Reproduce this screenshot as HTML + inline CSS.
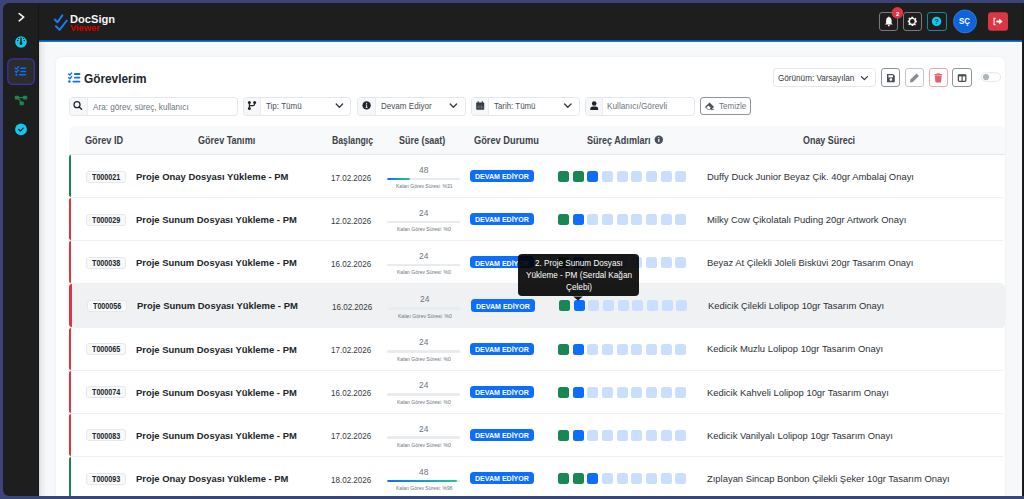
<!DOCTYPE html>
<html lang="tr"><head><meta charset="utf-8"><title>Görevlerim</title>
<style>
*{box-sizing:border-box;margin:0;padding:0}
html,body{width:1024px;height:499px;overflow:hidden}
body{background:#3b4577;font-family:"Liberation Sans",sans-serif;position:relative;color:#212529}
.a{position:absolute}
.t{position:absolute;white-space:nowrap;line-height:1;transform-origin:0 0}
.side{position:absolute;left:3px;top:3px;width:36px;height:493px;background:#1e1e1e;border-radius:6px 0 0 6px;border-right:1px solid #161616}
.hdr{position:absolute;left:39px;top:3px;width:983px;height:37px;background:#1e1e1e}
.bline{position:absolute;left:39px;top:40px;width:983px;height:2px;background:linear-gradient(#0b559f 0%,#0b559f 50%,#0a7ad9 50%,#0a7ad9 100%)}
.main{position:absolute;left:39px;top:42px;width:983px;height:454px;background:#f7f8fa;overflow:hidden}
.main:before{content:"";position:absolute;left:0;top:0;width:8px;height:100%;background:linear-gradient(90deg,rgba(0,0,0,.13),rgba(0,0,0,.05) 30%,rgba(0,0,0,0))}
.rstrip{position:absolute;left:1022px;top:3px;width:2px;height:493px;background:#1a1a1a}
.card{position:absolute;left:56px;top:56.5px;width:949px;height:460px;background:#fff;border-radius:6px;box-shadow:0 0 3px rgba(0,0,0,.06)}
.sq{position:absolute;top:16px;width:11px;height:11px;border-radius:2.5px;display:block}
.sg{background:#198754}.sb{background:#0d6efd}.sl{background:#cadffd}
.row{position:absolute;left:69px;width:936px;height:43.15px;background:#fff;border-radius:4px}
.row:after{content:"";position:absolute;left:0;right:2px;bottom:0;height:1px;background:#eef0f2}
.row:before{content:"";position:absolute;left:0;top:0;bottom:1px;width:2px;border-radius:3px 0 0 3px}
.rg:before{background:#198754}.rr:before{background:#dc3545}
.hov{background:#f0f1f3}
.hov:before{width:3px}
.rc{position:absolute;left:0;top:0;width:100%;height:100%}
.hov .rc{left:1px}
.idb{position:absolute;left:17px;top:15.6px;width:40px;height:12px;border:1px solid #e6e8eb;background:#f8f9fa;border-radius:3px}
.pb{position:absolute;left:318.2px;top:22.6px;width:73px;height:2.6px;background:#e9ecef;border-radius:2px;overflow:hidden}
.pf{height:100%;background:linear-gradient(90deg,#0d6efd,#20c997);border-radius:2px}
.bd{position:absolute;left:401px;top:15px;width:64px;height:12.1px;background:#0d6efd;border-radius:3.5px}
.steps{position:absolute;left:489px;top:0;width:140px;height:40px}
.fg{position:absolute;top:97.4px;height:18.2px;border:1px solid #e3e6ea;border-radius:3.5px;background:#fff;overflow:hidden}
.fg i{position:absolute;left:0;top:0;height:100%;background:#f6f7f9;border-right:1px solid #eaecef;display:block}
.ob{position:absolute;top:68.1px;height:19.2px;border:1px solid #8d949a;border-radius:3px}
.hb{position:absolute;top:12px;height:19px;border:1px solid #7a7a7a;border-radius:3px}

</style></head><body>
<div class="side"></div>
<div class="hdr"></div>
<div class="bline"></div>
<div class="rstrip"></div>
<div class="main"></div>
<div class="card"></div>
<!-- sidebar icons -->
<svg class="a" style="left:0;top:0" width="40" height="145" viewBox="0 0 40 145">
 <polyline points="19.2,13.6 23.7,17.2 19.2,20.8" fill="none" stroke="#f2f2f2" stroke-width="1.6" stroke-linecap="round" stroke-linejoin="round"/>
 <circle cx="21" cy="42" r="5.8" fill="#0dcaf0"/>
 <path d="M20.5,37.2 L21.5,37.2 L21.8,43 L20.2,43 Z" fill="#1e1e1e"/>
 <circle cx="21" cy="43.6" r="1.4" fill="#1e1e1e"/>
 <circle cx="17.7" cy="40.6" r="0.8" fill="#1e1e1e"/>
 <circle cx="24.3" cy="40.6" r="0.8" fill="#1e1e1e"/>
 <circle cx="18.6" cy="38.4" r="0.7" fill="#1e1e1e"/>
 <circle cx="23.4" cy="38.4" r="0.7" fill="#1e1e1e"/>
 <rect x="7.8" y="58.8" width="26.6" height="25.6" rx="5" fill="#2c2c2c" stroke="#3536a0" stroke-width="1.3"/>
 <g fill="#0d6efd">
  <polyline points="15.3,68 16.4,69 18.6,66.8" fill="none" stroke="#0d6efd" stroke-width="1.4" stroke-linecap="round"/>
  <polyline points="15.3,71.3 16.4,72.3 18.6,70.1" fill="none" stroke="#0d6efd" stroke-width="1.4" stroke-linecap="round"/>
  <rect x="20.2" y="67.4" width="6" height="1.6" rx="0.8"/>
  <rect x="20.2" y="70.7" width="6" height="1.6" rx="0.8"/>
  <circle cx="16.4" cy="74.8" r="1.1"/>
  <rect x="18.8" y="74" width="7.4" height="1.6" rx="0.8"/>
 </g>
 <g fill="#198754" stroke="#198754">
  <rect x="14.8" y="95.7" width="4.2" height="3.8" rx="0.7" stroke="none"/>
  <rect x="23" y="95.7" width="4.2" height="3.8" rx="0.7" stroke="none"/>
  <rect x="19.6" y="101.5" width="4.2" height="3.8" rx="0.7" stroke="none"/>
  <line x1="18" y1="97.6" x2="24" y2="97.6" stroke-width="1.3"/>
  <line x1="18" y1="98.2" x2="21.2" y2="102.2" stroke-width="1.3"/>
 </g>
 <circle cx="21" cy="129.4" r="5.9" fill="#0dcaf0"/>
 <polyline points="18.8,129.5 20.4,131 23.3,128.1" fill="none" stroke="#1e1e1e" stroke-width="1.3" stroke-linecap="round" stroke-linejoin="round"/>
</svg>
<!-- header -->
<svg class="a" style="left:50px;top:10px" width="22" height="24" viewBox="50 10 22 24">
 <polyline points="54.8,19.5 57.5,22.3 62.3,15.4" fill="none" stroke="#1a7bf5" stroke-width="2" stroke-linecap="round" stroke-linejoin="round"/>
 <polyline points="55.9,26.2 59.6,29.9 66.8,20.5" fill="none" stroke="#1a7bf5" stroke-width="2" stroke-linecap="round" stroke-linejoin="round"/>
</svg>
<span class="t" style="left:70.20px;top:13.61px;font-size:11.4px;font-weight:700;color:#f5f5f5;transform:scaleX(0.9761)">DocSign</span>
<span class="t" style="left:69.80px;top:23.68px;font-size:9.2px;font-weight:700;color:#d00000;transform:scaleX(1.0112)">Viewer</span>
<div class="hb" style="left:879px;width:19px"></div>
<div class="hb" style="left:902.5px;width:19px"></div>
<div class="hb" style="left:926.7px;width:20px;border-color:#17899d"></div>
<svg class="a" style="left:870px;top:0" width="154" height="40" viewBox="870 0 154 40">
 <path d="M884.9,24.6 L892.8,24.6 L891.6,23.2 L891.6,20.2 Q891.6,17.6 889.2,17 L889.2,16.4 L888.5,16.4 L888.5,17 Q886.1,17.6 886.1,20.2 L886.1,23.2 Z" fill="#fafafa"/>
 <circle cx="888.85" cy="25.4" r="0.9" fill="#fafafa"/>
 <circle cx="897.4" cy="12.8" r="5.8" fill="#dc3545"/>
 <g transform="translate(912.3,21.4)">
  <path d="M-0.9,-4.6 L0.9,-4.6 L1.2,-3.3 L2.3,-2.9 L3.4,-3.6 L4.1,-2.9 L3.6,-1.8 L4.1,-0.7 L4.6,-0.3 L4.6,0.9 L3.4,1.2 L3,2.3 L3.6,3.4 L2.9,4.1 L1.8,3.6 L0.9,4 L0.6,4.6 L-0.6,4.6 L-1,3.6 L-2,3.3 L-3.1,3.9 L-4,3.1 L-3.4,2 L-3.8,0.9 L-4.6,0.6 L-4.6,-0.6 L-3.6,-1 L-3.3,-2 L-3.9,-3.1 L-3.1,-3.9 L-2,-3.3 L-1.2,-3.6 Z" fill="#f5f5f5"/>
  <circle r="2.3" fill="#1e1e1e"/>
 </g>
 <circle cx="936.6" cy="21.4" r="4.7" fill="#0dcaf0"/>
 <text x="936.6" y="24.2" font-family="Liberation Sans" font-size="7" font-weight="700" fill="#0b3a48" text-anchor="middle">?</text>
 <circle cx="965" cy="21.4" r="11.5" fill="#0f63dc" stroke="#3d7fe0" stroke-width="0.8"/>
 <rect x="988" y="12.2" width="20" height="18.6" rx="3" fill="#dc3545"/>
 <path d="M995.6,18.3 L994.1,18.3 L994.1,24.8 L995.6,24.8" fill="none" stroke="#fff" stroke-width="1.1"/>
 <path d="M996.4,20.5 L999.2,20.5 L999.2,18.6 L1002.6,21.5 L999.2,24.4 L999.2,22.5 L996.4,22.5 Z" fill="#fff"/>
</svg>
<span class="t" style="left:895.70px;top:10.60px;font-size:6.0px;font-weight:700;color:#fff;transform:scaleX(1.0168)">2</span>
<span class="t" style="left:959.20px;top:17.45px;font-size:9.0px;font-weight:700;color:#fff;transform:scaleX(0.8789)">SÇ</span>
<!-- title -->
<svg class="a" style="left:60px;top:66px" width="24" height="20" viewBox="60 66 24 20">
 <g fill="#0d6efd">
  <polyline points="68.7,74 69.8,75 71.7,72.9" fill="none" stroke="#0d6efd" stroke-width="1.4" stroke-linecap="round" stroke-linejoin="round"/>
  <polyline points="68.7,77.7 69.8,78.7 71.7,76.6" fill="none" stroke="#0d6efd" stroke-width="1.4" stroke-linecap="round" stroke-linejoin="round"/>
  <rect x="74" y="73.1" width="6.4" height="1.8" rx="0.9"/>
  <rect x="74" y="76.7" width="6.4" height="1.8" rx="0.9"/>
  <circle cx="69.4" cy="81.6" r="1.25"/>
  <rect x="72.4" y="80.7" width="8" height="1.8" rx="0.9"/>
 </g>
</svg>
<span class="t" style="left:84.20px;top:71.75px;font-size:13.0px;font-weight:700;color:#212529;transform:scaleX(0.9103)">Görevlerim</span>
<!-- view select + buttons -->
<div class="a" style="left:772.6px;top:68.4px;width:103.8px;height:18.8px;border:1px solid #e3e6ea;border-radius:3.5px;background:#fff"></div>
<span class="t" style="left:777.70px;top:74.19px;font-size:8.6px;font-weight:400;color:#343a40;transform:scaleX(0.9471)">Görünüm: Varsayılan</span>
<svg class="a" style="left:860px;top:74.6px" width="9" height="7" viewBox="0 0 9 7"><polyline points="1.4,1.6 4.4,4.6 7.4,1.6" fill="none" stroke="#343a40" stroke-width="1.3" stroke-linecap="round" stroke-linejoin="round"/></svg>
<div class="ob" style="left:881.3px;width:18.5px"></div>
<div class="ob" style="left:904.8px;width:19px;border-color:#c4c8cc"></div>
<div class="ob" style="left:928.9px;width:18.8px;border-color:#f0a8b0"></div>
<div class="ob" style="left:951.8px;width:20.3px"></div>
<svg class="a" style="left:875px;top:62px" width="130" height="32" viewBox="875 62 130 32">
 <path d="M887,74 L893,74 L894.8,75.8 L894.8,82.3 L887,82.3 Z" fill="#495057"/>
 <rect x="888.4" y="75.2" width="4.6" height="2.2" fill="#fff"/>
 <circle cx="890.9" cy="79.6" r="1.3" fill="#fff"/>
 <path d="M909.9,82.4 L910.4,79.6 L916.6,73.6 L918.9,75.9 L912.8,81.9 Z" fill="#868e96"/>
 <path d="M934.8,75.6 L941.7,75.6 L941.1,82 Q941,82.4 940.6,82.4 L935.9,82.4 Q935.5,82.4 935.4,82 Z" fill="#e4606d"/>
 <rect x="934.4" y="74" width="7.7" height="1.3" rx="0.4" fill="#e4606d"/>
 <rect x="936.8" y="73.3" width="2.8" height="1" fill="#e4606d"/>
 <rect x="958.4" y="74.8" width="7.4" height="6.6" rx="0.8" fill="none" stroke="#495057" stroke-width="1.3"/>
 <rect x="958.4" y="74.6" width="7.4" height="1.8" fill="#495057"/>
 <line x1="962.1" y1="75" x2="962.1" y2="81.4" stroke="#495057" stroke-width="1.2"/>
 <rect x="981.3" y="72.8" width="19.3" height="8.6" rx="4.3" fill="#fff" stroke="#dee2e6" stroke-width="0.8"/>
 <circle cx="986" cy="77.1" r="3.1" fill="#b0b5ba"/>
</svg>
<!-- filters -->
<div class="fg" style="left:68.6px;width:169.4px"><i style="width:18.9px"></i></div>
<div class="fg" style="left:243.3px;width:108px"><i style="width:17px"></i></div>
<div class="fg" style="left:357.4px;width:108.7px"><i style="width:17.3px"></i></div>
<div class="fg" style="left:471.3px;width:108.5px"><i style="width:16.5px"></i></div>
<div class="fg" style="left:585.3px;width:109.3px"><i style="width:16.7px"></i></div>
<div class="a" style="left:699.5px;top:97.4px;width:51.9px;height:18.1px;border:1px solid #8d949a;border-radius:3px;background:#fff"></div>
<span class="t" style="left:92.60px;top:102.79px;font-size:9.3px;font-weight:400;color:#6c757d;transform:scaleX(0.8750)">Ara: görev, süreç, kullanıcı</span>
<span class="t" style="left:265.50px;top:102.29px;font-size:9.3px;font-weight:400;color:#495057;transform:scaleX(0.8611)">Tip: Tümü</span>
<span class="t" style="left:380.50px;top:102.29px;font-size:9.3px;font-weight:400;color:#495057;transform:scaleX(0.8683)">Devam Ediyor</span>
<span class="t" style="left:493.50px;top:102.29px;font-size:9.3px;font-weight:400;color:#495057;transform:scaleX(0.8483)">Tarih: Tümü</span>
<span class="t" style="left:607.20px;top:102.29px;font-size:9.3px;font-weight:400;color:#6c757d;transform:scaleX(0.8877)">Kullanıcı/Görevli</span>
<span class="t" style="left:718.80px;top:102.29px;font-size:9.3px;font-weight:400;color:#6c757d;transform:scaleX(0.8631)">Temizle</span>
<svg class="a" style="left:60px;top:90px" width="700" height="30" viewBox="60 90 700 30">
 <circle cx="77" cy="104.7" r="3" fill="none" stroke="#212529" stroke-width="1.25"/>
 <line x1="79.2" y1="106.9" x2="81.6" y2="109.3" stroke="#212529" stroke-width="1.35" stroke-linecap="round"/>
 <circle cx="249.4" cy="102.4" r="1.5" fill="#212529"/>
 <circle cx="249.4" cy="108.4" r="1.5" fill="#212529"/>
 <circle cx="254.6" cy="102.4" r="1.5" fill="#212529"/>
 <line x1="249.4" y1="102.4" x2="249.4" y2="108.4" stroke="#212529" stroke-width="1.2"/>
 <path d="M254.6,102.4 L254.6,104 Q254.6,105.6 253,105.6 L249.4,105.6" fill="none" stroke="#212529" stroke-width="1.2"/>
 <polyline points="336.2,104 339.4,107.2 342.6,104" fill="none" stroke="#343a40" stroke-width="1.3" stroke-linecap="round" stroke-linejoin="round"/>
 <circle cx="366.6" cy="105.4" r="4.2" fill="#212529"/>
 <path d="M365.7,104.5 L367.1,104.5 L367.1,107.2 L367.6,107.2 L367.6,107.9 L365.6,107.9 L365.6,107.2 L366.1,107.2 L366.1,105.2 L365.7,105.2 Z" fill="#e8e8e8"/>
 <circle cx="366.6" cy="103.3" r="0.65" fill="#e8e8e8"/>
 <polyline points="450.2,104 453.4,107.2 456.6,104" fill="none" stroke="#343a40" stroke-width="1.3" stroke-linecap="round" stroke-linejoin="round"/>
 <rect x="476.2" y="102.4" width="8" height="7.4" rx="0.8" fill="#343a40"/>
 <rect x="477.6" y="101.2" width="1.1" height="1.8" fill="#343a40"/>
 <rect x="481.7" y="101.2" width="1.1" height="1.8" fill="#343a40"/>
 <g stroke="#8a9096" stroke-width="0.5"><line x1="478.8" y1="104.6" x2="478.8" y2="109.6"/><line x1="481.4" y1="104.6" x2="481.4" y2="109.6"/><line x1="476.4" y1="107" x2="484" y2="107"/></g>
 <polyline points="564.6,104 567.8,107.2 571,104" fill="none" stroke="#343a40" stroke-width="1.3" stroke-linecap="round" stroke-linejoin="round"/>
 <circle cx="594.2" cy="103.5" r="2.3" fill="#212529"/>
 <path d="M590.2,110 Q590.2,106.6 592.6,106.6 L595.8,106.6 Q598.2,106.6 598.2,110 Z" fill="#212529"/>
 <path d="M709.6,102.6 L714,107 L711.4,109.6 L707.6,109.6 L705.4,107.4 Q705,107 705.4,106.6 Z" fill="#495057"/>
 <path d="M706.4,107.2 L708.4,105.4 L710.8,107.8 L709.6,109 L707.8,109 Z" fill="#fff"/>
 <line x1="711" y1="109.6" x2="714.2" y2="109.6" stroke="#495057" stroke-width="0.8"/>
</svg>
<!-- table header -->
<div class="a" style="left:68.5px;top:126px;width:936.5px;height:29px;background:#f8f9fa;border-radius:6px 6px 0 0;border-bottom:1px solid #e6e9ec"></div>
<span class="t" style="left:84.50px;top:135.93px;font-size:10.2px;font-weight:700;color:#3d4349;transform:scaleX(0.8971)">Görev ID</span>
<span class="t" style="left:197.60px;top:135.93px;font-size:10.2px;font-weight:700;color:#3d4349;transform:scaleX(0.8888)">Görev Tanımı</span>
<span class="t" style="left:331.60px;top:135.93px;font-size:10.2px;font-weight:700;color:#3d4349;transform:scaleX(0.8537)">Başlangıç</span>
<span class="t" style="left:398.50px;top:135.93px;font-size:10.2px;font-weight:700;color:#3d4349;transform:scaleX(0.8793)">Süre (saat)</span>
<span class="t" style="left:474.40px;top:135.93px;font-size:10.2px;font-weight:700;color:#3d4349;transform:scaleX(0.9085)">Görev Durumu</span>
<span class="t" style="left:587.20px;top:135.93px;font-size:10.2px;font-weight:700;color:#3d4349;transform:scaleX(0.8877)">Süreç Adımları</span>
<svg class="a" style="left:654px;top:135px" width="10" height="10" viewBox="0 0 10 10"><circle cx="4.8" cy="4.8" r="4.2" fill="#495057"/><rect x="4.2" y="3.9" width="1.2" height="3.2" fill="#fff"/><circle cx="4.8" cy="2.6" r="0.7" fill="#fff"/></svg>
<span class="t" style="left:802.50px;top:135.93px;font-size:10.2px;font-weight:700;color:#3d4349;transform:scaleX(0.8761)">Onay Süreci</span>
<div class="row rg" style="top:155.00px"><div class="rc">
<span class="idb"></span>
<span class="t" style="left:22.60px;top:17.66px;font-size:8.4px;font-weight:700;color:#212529;transform:scaleX(0.8560)">T000021</span>
<span class="t" style="left:67.30px;top:16.97px;font-size:9.8px;font-weight:700;color:#212529;transform:scaleX(0.9630)">Proje Onay Dosyası Yükleme - PM</span>
<span class="t" style="left:261.60px;top:17.51px;font-size:9.4px;font-weight:400;color:#343a40;transform:scaleX(0.8567)">17.02.2026</span>
<span class="t" style="left:349.72px;top:10.64px;font-size:8.3px;font-weight:400;color:#6c757d;transform:scaleX(1.0125)">48</span>
<div class="pb"><div class="pf" style="width:31%"></div></div>
<span class="t" style="left:326.50px;top:29.18px;font-size:5.2px;font-weight:400;color:#6c757d;transform:scaleX(0.9700)">Kalan Görev Süresi: %31</span>
<span class="bd"></span>
<span class="t" style="left:406.05px;top:18.28px;font-size:7.2px;font-weight:700;color:#fff;transform:scaleX(0.9803)">DEVAM EDİYOR</span>
<div class="steps"><i class="sq sg" style="left:0.00px"></i><i class="sq sg" style="left:14.65px"></i><i class="sq sb" style="left:29.30px"></i><i class="sq sl" style="left:43.95px"></i><i class="sq sl" style="left:58.60px"></i><i class="sq sl" style="left:73.25px"></i><i class="sq sl" style="left:87.90px"></i><i class="sq sl" style="left:102.55px"></i><i class="sq sl" style="left:117.20px"></i></div>
<span class="t" style="left:637.50px;top:16.88px;font-size:9.9px;font-weight:400;color:#2b3035;transform:scaleX(0.9530)">Duffy Duck Junior Beyaz Çik. 40gr Ambalaj Onayı</span>
</div></div>
<div class="row rr" style="top:198.15px"><div class="rc">
<span class="idb"></span>
<span class="t" style="left:22.60px;top:17.66px;font-size:8.4px;font-weight:700;color:#212529;transform:scaleX(0.8560)">T000029</span>
<span class="t" style="left:67.30px;top:16.97px;font-size:9.8px;font-weight:700;color:#212529;transform:scaleX(0.9630)">Proje Sunum Dosyası Yükleme - PM</span>
<span class="t" style="left:261.60px;top:17.51px;font-size:9.4px;font-weight:400;color:#343a40;transform:scaleX(0.8567)">12.02.2026</span>
<span class="t" style="left:349.72px;top:10.64px;font-size:8.3px;font-weight:400;color:#6c757d;transform:scaleX(1.0125)">24</span>
<div class="pb"><div class="pf" style="width:0%"></div></div>
<span class="t" style="left:327.89px;top:29.18px;font-size:5.2px;font-weight:400;color:#6c757d;transform:scaleX(0.9700)">Kalan Görev Süresi: %0</span>
<span class="bd"></span>
<span class="t" style="left:406.05px;top:18.28px;font-size:7.2px;font-weight:700;color:#fff;transform:scaleX(0.9803)">DEVAM EDİYOR</span>
<div class="steps"><i class="sq sg" style="left:0.00px"></i><i class="sq sb" style="left:14.65px"></i><i class="sq sl" style="left:29.30px"></i><i class="sq sl" style="left:43.95px"></i><i class="sq sl" style="left:58.60px"></i><i class="sq sl" style="left:73.25px"></i><i class="sq sl" style="left:87.90px"></i><i class="sq sl" style="left:102.55px"></i><i class="sq sl" style="left:117.20px"></i></div>
<span class="t" style="left:637.50px;top:16.88px;font-size:9.9px;font-weight:400;color:#2b3035;transform:scaleX(0.9530)">Milky Cow Çikolatalı Puding 20gr Artwork Onayı</span>
</div></div>
<div class="row rr" style="top:241.30px"><div class="rc">
<span class="idb"></span>
<span class="t" style="left:22.60px;top:17.66px;font-size:8.4px;font-weight:700;color:#212529;transform:scaleX(0.8560)">T000038</span>
<span class="t" style="left:67.30px;top:16.97px;font-size:9.8px;font-weight:700;color:#212529;transform:scaleX(0.9630)">Proje Sunum Dosyası Yükleme - PM</span>
<span class="t" style="left:261.60px;top:17.51px;font-size:9.4px;font-weight:400;color:#343a40;transform:scaleX(0.8567)">16.02.2026</span>
<span class="t" style="left:349.72px;top:10.64px;font-size:8.3px;font-weight:400;color:#6c757d;transform:scaleX(1.0125)">24</span>
<div class="pb"><div class="pf" style="width:0%"></div></div>
<span class="t" style="left:327.89px;top:29.18px;font-size:5.2px;font-weight:400;color:#6c757d;transform:scaleX(0.9700)">Kalan Görev Süresi: %0</span>
<span class="bd"></span>
<span class="t" style="left:406.05px;top:18.28px;font-size:7.2px;font-weight:700;color:#fff;transform:scaleX(0.9803)">DEVAM EDİYOR</span>
<div class="steps"><i class="sq sg" style="left:0.00px"></i><i class="sq sb" style="left:14.65px"></i><i class="sq sl" style="left:29.30px"></i><i class="sq sl" style="left:43.95px"></i><i class="sq sl" style="left:58.60px"></i><i class="sq sl" style="left:73.25px"></i><i class="sq sl" style="left:87.90px"></i><i class="sq sl" style="left:102.55px"></i><i class="sq sl" style="left:117.20px"></i></div>
<span class="t" style="left:637.50px;top:16.88px;font-size:9.9px;font-weight:400;color:#2b3035;transform:scaleX(0.9530)">Beyaz At Çilekli Jöleli Bisküvi 20gr Tasarım Onayı</span>
</div></div>
<div class="row hov rr" style="top:284.45px"><div class="rc">
<span class="idb"></span>
<span class="t" style="left:22.60px;top:17.66px;font-size:8.4px;font-weight:700;color:#212529;transform:scaleX(0.8560)">T000056</span>
<span class="t" style="left:67.30px;top:16.97px;font-size:9.8px;font-weight:700;color:#212529;transform:scaleX(0.9630)">Proje Sunum Dosyası Yükleme - PM</span>
<span class="t" style="left:261.60px;top:17.51px;font-size:9.4px;font-weight:400;color:#343a40;transform:scaleX(0.8567)">16.02.2026</span>
<span class="t" style="left:349.72px;top:10.64px;font-size:8.3px;font-weight:400;color:#6c757d;transform:scaleX(1.0125)">24</span>
<div class="pb"><div class="pf" style="width:0%"></div></div>
<span class="t" style="left:327.89px;top:29.18px;font-size:5.2px;font-weight:400;color:#6c757d;transform:scaleX(0.9700)">Kalan Görev Süresi: %0</span>
<span class="bd"></span>
<span class="t" style="left:406.05px;top:18.28px;font-size:7.2px;font-weight:700;color:#fff;transform:scaleX(0.9803)">DEVAM EDİYOR</span>
<div class="steps"><i class="sq sg" style="left:0.00px"></i><i class="sq sb" style="left:14.65px"></i><i class="sq sl" style="left:29.30px"></i><i class="sq sl" style="left:43.95px"></i><i class="sq sl" style="left:58.60px"></i><i class="sq sl" style="left:73.25px"></i><i class="sq sl" style="left:87.90px"></i><i class="sq sl" style="left:102.55px"></i><i class="sq sl" style="left:117.20px"></i></div>
<span class="t" style="left:637.50px;top:16.88px;font-size:9.9px;font-weight:400;color:#2b3035;transform:scaleX(0.9530)">Kedicik Çilekli Lolipop 10gr Tasarım Onayı</span>
</div></div>
<div class="row rr" style="top:327.60px"><div class="rc">
<span class="idb"></span>
<span class="t" style="left:22.60px;top:17.66px;font-size:8.4px;font-weight:700;color:#212529;transform:scaleX(0.8560)">T000065</span>
<span class="t" style="left:67.30px;top:16.97px;font-size:9.8px;font-weight:700;color:#212529;transform:scaleX(0.9630)">Proje Sunum Dosyası Yükleme - PM</span>
<span class="t" style="left:261.60px;top:17.51px;font-size:9.4px;font-weight:400;color:#343a40;transform:scaleX(0.8567)">17.02.2026</span>
<span class="t" style="left:349.72px;top:10.64px;font-size:8.3px;font-weight:400;color:#6c757d;transform:scaleX(1.0125)">24</span>
<div class="pb"><div class="pf" style="width:0%"></div></div>
<span class="t" style="left:327.89px;top:29.18px;font-size:5.2px;font-weight:400;color:#6c757d;transform:scaleX(0.9700)">Kalan Görev Süresi: %0</span>
<span class="bd"></span>
<span class="t" style="left:406.05px;top:18.28px;font-size:7.2px;font-weight:700;color:#fff;transform:scaleX(0.9803)">DEVAM EDİYOR</span>
<div class="steps"><i class="sq sg" style="left:0.00px"></i><i class="sq sb" style="left:14.65px"></i><i class="sq sl" style="left:29.30px"></i><i class="sq sl" style="left:43.95px"></i><i class="sq sl" style="left:58.60px"></i><i class="sq sl" style="left:73.25px"></i><i class="sq sl" style="left:87.90px"></i><i class="sq sl" style="left:102.55px"></i><i class="sq sl" style="left:117.20px"></i></div>
<span class="t" style="left:637.50px;top:16.88px;font-size:9.9px;font-weight:400;color:#2b3035;transform:scaleX(0.9530)">Kedicik Muzlu Lolipop 10gr Tasarım Onayı</span>
</div></div>
<div class="row rr" style="top:370.75px"><div class="rc">
<span class="idb"></span>
<span class="t" style="left:22.60px;top:17.66px;font-size:8.4px;font-weight:700;color:#212529;transform:scaleX(0.8560)">T000074</span>
<span class="t" style="left:67.30px;top:16.97px;font-size:9.8px;font-weight:700;color:#212529;transform:scaleX(0.9630)">Proje Sunum Dosyası Yükleme - PM</span>
<span class="t" style="left:261.60px;top:17.51px;font-size:9.4px;font-weight:400;color:#343a40;transform:scaleX(0.8567)">16.02.2026</span>
<span class="t" style="left:349.72px;top:10.64px;font-size:8.3px;font-weight:400;color:#6c757d;transform:scaleX(1.0125)">24</span>
<div class="pb"><div class="pf" style="width:0%"></div></div>
<span class="t" style="left:327.89px;top:29.18px;font-size:5.2px;font-weight:400;color:#6c757d;transform:scaleX(0.9700)">Kalan Görev Süresi: %0</span>
<span class="bd"></span>
<span class="t" style="left:406.05px;top:18.28px;font-size:7.2px;font-weight:700;color:#fff;transform:scaleX(0.9803)">DEVAM EDİYOR</span>
<div class="steps"><i class="sq sg" style="left:0.00px"></i><i class="sq sb" style="left:14.65px"></i><i class="sq sl" style="left:29.30px"></i><i class="sq sl" style="left:43.95px"></i><i class="sq sl" style="left:58.60px"></i><i class="sq sl" style="left:73.25px"></i><i class="sq sl" style="left:87.90px"></i><i class="sq sl" style="left:102.55px"></i><i class="sq sl" style="left:117.20px"></i></div>
<span class="t" style="left:637.50px;top:16.88px;font-size:9.9px;font-weight:400;color:#2b3035;transform:scaleX(0.9530)">Kedicik Kahveli Lolipop 10gr Tasarım Onayı</span>
</div></div>
<div class="row rr" style="top:413.90px"><div class="rc">
<span class="idb"></span>
<span class="t" style="left:22.60px;top:17.66px;font-size:8.4px;font-weight:700;color:#212529;transform:scaleX(0.8560)">T000083</span>
<span class="t" style="left:67.30px;top:16.97px;font-size:9.8px;font-weight:700;color:#212529;transform:scaleX(0.9630)">Proje Sunum Dosyası Yükleme - PM</span>
<span class="t" style="left:261.60px;top:17.51px;font-size:9.4px;font-weight:400;color:#343a40;transform:scaleX(0.8567)">17.02.2026</span>
<span class="t" style="left:349.72px;top:10.64px;font-size:8.3px;font-weight:400;color:#6c757d;transform:scaleX(1.0125)">24</span>
<div class="pb"><div class="pf" style="width:0%"></div></div>
<span class="t" style="left:327.89px;top:29.18px;font-size:5.2px;font-weight:400;color:#6c757d;transform:scaleX(0.9700)">Kalan Görev Süresi: %0</span>
<span class="bd"></span>
<span class="t" style="left:406.05px;top:18.28px;font-size:7.2px;font-weight:700;color:#fff;transform:scaleX(0.9803)">DEVAM EDİYOR</span>
<div class="steps"><i class="sq sg" style="left:0.00px"></i><i class="sq sb" style="left:14.65px"></i><i class="sq sl" style="left:29.30px"></i><i class="sq sl" style="left:43.95px"></i><i class="sq sl" style="left:58.60px"></i><i class="sq sl" style="left:73.25px"></i><i class="sq sl" style="left:87.90px"></i><i class="sq sl" style="left:102.55px"></i><i class="sq sl" style="left:117.20px"></i></div>
<span class="t" style="left:637.50px;top:16.88px;font-size:9.9px;font-weight:400;color:#2b3035;transform:scaleX(0.9530)">Kedicik Vanilyalı Lolipop 10gr Tasarım Onayı</span>
</div></div>
<div class="row rg" style="top:457.05px"><div class="rc">
<span class="idb"></span>
<span class="t" style="left:22.60px;top:17.66px;font-size:8.4px;font-weight:700;color:#212529;transform:scaleX(0.8560)">T000093</span>
<span class="t" style="left:67.30px;top:16.97px;font-size:9.8px;font-weight:700;color:#212529;transform:scaleX(0.9630)">Proje Onay Dosyası Yükleme - PM</span>
<span class="t" style="left:261.60px;top:17.51px;font-size:9.4px;font-weight:400;color:#343a40;transform:scaleX(0.8567)">18.02.2026</span>
<span class="t" style="left:349.72px;top:10.64px;font-size:8.3px;font-weight:400;color:#6c757d;transform:scaleX(1.0125)">48</span>
<div class="pb"><div class="pf" style="width:96%"></div></div>
<span class="t" style="left:326.50px;top:29.18px;font-size:5.2px;font-weight:400;color:#6c757d;transform:scaleX(0.9700)">Kalan Görev Süresi: %96</span>
<span class="bd"></span>
<span class="t" style="left:406.05px;top:18.28px;font-size:7.2px;font-weight:700;color:#fff;transform:scaleX(0.9803)">DEVAM EDİYOR</span>
<div class="steps"><i class="sq sg" style="left:0.00px"></i><i class="sq sg" style="left:14.65px"></i><i class="sq sb" style="left:29.30px"></i><i class="sq sl" style="left:43.95px"></i><i class="sq sl" style="left:58.60px"></i><i class="sq sl" style="left:73.25px"></i><i class="sq sl" style="left:87.90px"></i><i class="sq sl" style="left:102.55px"></i><i class="sq sl" style="left:117.20px"></i></div>
<span class="t" style="left:637.50px;top:16.88px;font-size:9.9px;font-weight:400;color:#2b3035;transform:scaleX(0.9530)">Zıplayan Sincap Bonbon Çilekli Şeker 10gr Tasarım Onayı</span>
</div></div>

<!-- tooltip -->
<div class="a" style="left:517.9px;top:253.7px;width:120.9px;height:42.4px;background:rgba(0,0,0,.9);border-radius:4px"></div>
<svg class="a" style="left:572px;top:295.6px" width="12" height="5" viewBox="0 0 12 5"><path d="M1.2,0.5 L6,4.6 L10.8,0.5 Z" fill="rgba(0,0,0,.9)"/></svg>
<span class="t" style="left:534.60px;top:258.75px;font-size:9.0px;font-weight:400;color:#fff;transform:scaleX(0.9047)">2. Proje Sunum Dosyası</span>
<span class="t" style="left:525.50px;top:270.95px;font-size:9.0px;font-weight:400;color:#fff;transform:scaleX(0.9094)">Yükleme - PM (Serdal Kağan</span>
<span class="t" style="left:565.50px;top:283.35px;font-size:9.0px;font-weight:400;color:#fff;transform:scaleX(0.9118)">Çelebi)</span>
<div class="a" style="left:0;top:496px;width:1024px;height:3px;background:#3b4577"></div>

</body></html>
